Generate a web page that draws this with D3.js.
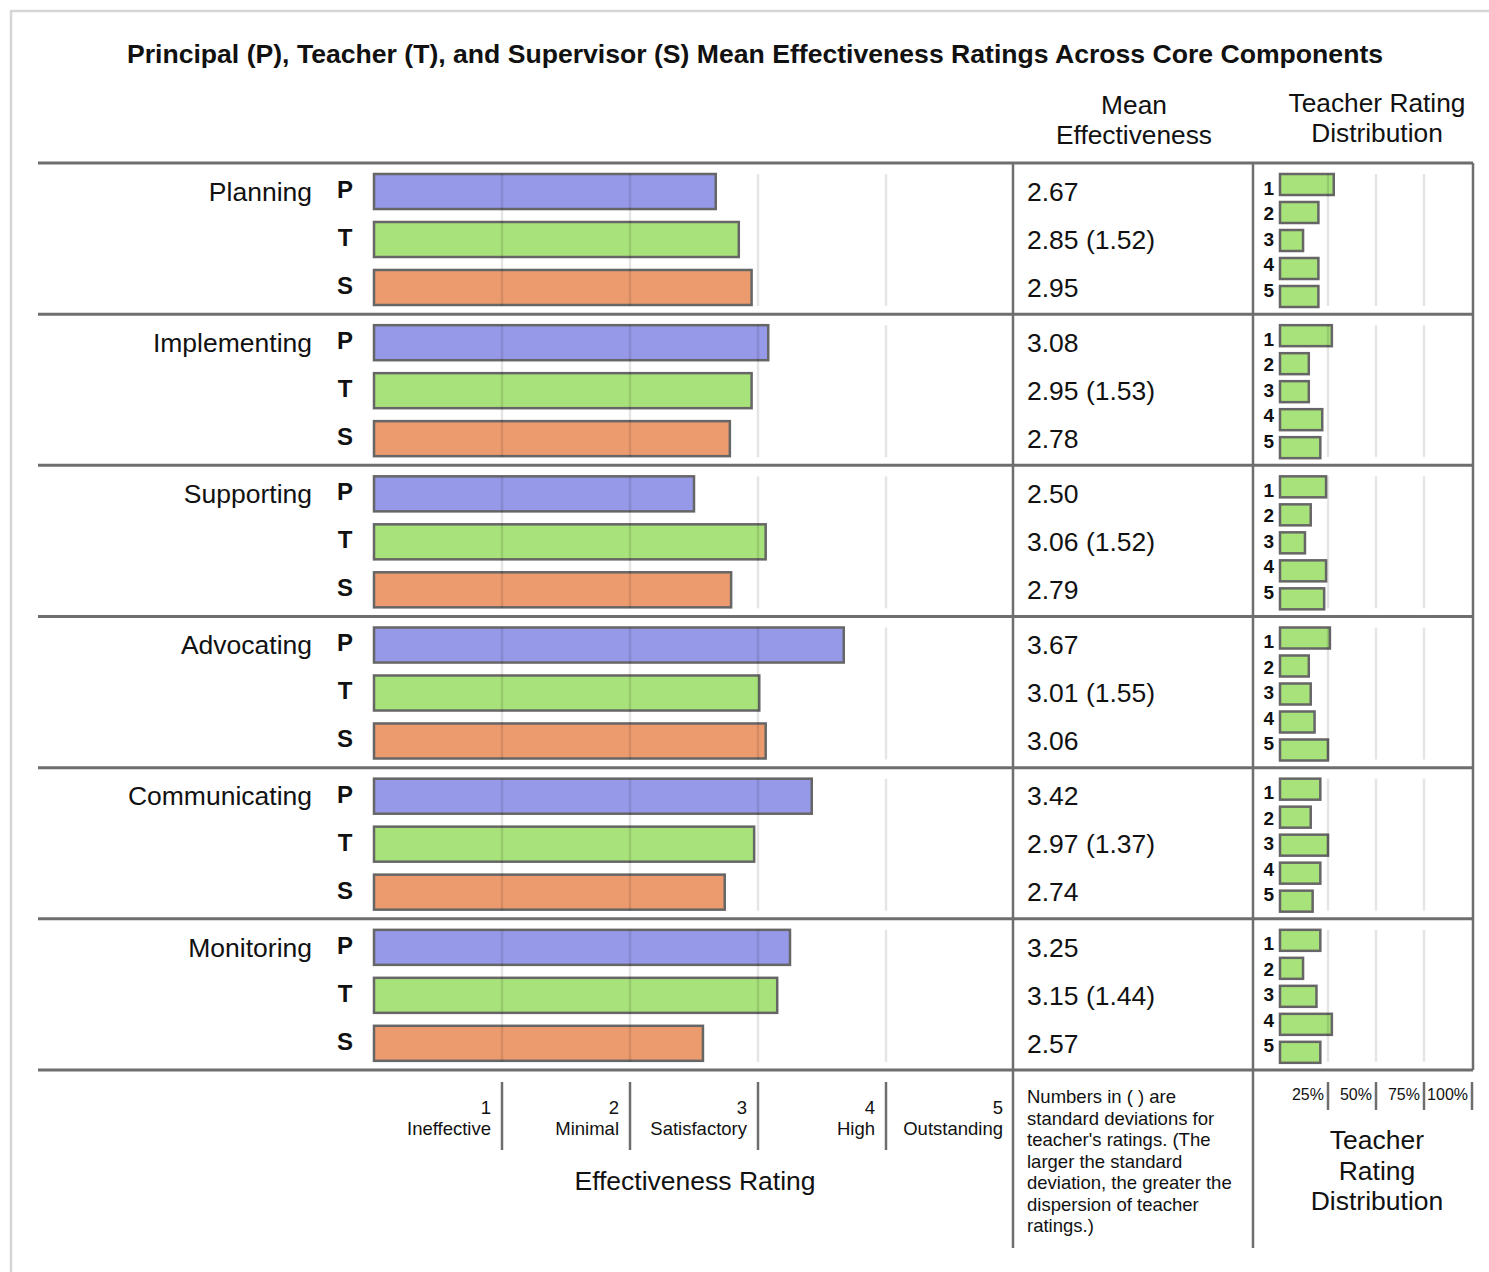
<!DOCTYPE html>
<html><head><meta charset="utf-8">
<script src="https://cdn.jsdelivr.net/npm/d3@7"></script>
<style>body{margin:0;background:#fff;} text{font-family:"Liberation Sans",Arial,sans-serif;fill:#111;}</style>
</head><body>
<svg id="c" width="1489" height="1272"></svg>
<script>
const title = "Principal (P), Teacher (T), and Supervisor (S) Mean Effectiveness Ratings Across Core Components";
const categories = ["Planning","Implementing","Supporting","Advocating","Communicating","Monitoring"];
const roles = ["P","T","S"];
const principal = [2.67,3.08,2.50,3.67,3.42,3.25];
const teacher = [2.85,2.95,3.06,3.01,2.97,3.15];
const teacherSD = [1.52,1.53,1.52,1.55,1.37,1.44];
const supervisor = [2.95,2.78,2.79,3.06,2.74,2.57];
const ratingLevels = [1,2,3,4,5];
const ratingNames = ["Ineffective","Minimal","Satisfactory","High","Outstanding"];
// teacher rating distribution (% of teachers giving rating 1..5)
const distPlanning = [28,20,12,20,20];
const distImplementing = [27,15,15,22,21];
const distSupporting = [24,16,13,24,23];
const distAdvocating = [26,15,16,18,25];
const distCommunicating = [21,16,25,21,17];
const distMonitoring = [21,12,19,27,21];
const distributions = [distPlanning,distImplementing,distSupporting,distAdvocating,distCommunicating,distMonitoring];
const pctTicks = [25,50,75,100];
const noteLines = ["Numbers in ( ) are","standard deviations for","teacher's ratings. (The","larger the standard","deviation, the greater the","dispersion of teacher","ratings.)"];

const colors = {P:"#9698e8", T:"#a8e27a", S:"#ec9b6e"};
const svg = d3.select("#c");

// outer frame
svg.append("rect").attr("x",11).attr("y",11).attr("width",1500).attr("height",1300)
  .attr("fill","none").attr("stroke","#d6d6d6").attr("stroke-width",2.5);

svg.append("text").attr("x",755).attr("y",54).attr("dy","0.35em").attr("text-anchor","middle")
  .attr("font-size",26.6).attr("font-weight","bold").text(title);

// headers
[["Mean",1134,105],["Effectiveness",1134,135],["Teacher Rating",1377,103],["Distribution",1377,133]].forEach(d=>{
  svg.append("text").attr("x",d[1]).attr("y",d[2]).attr("dy","0.35em").attr("text-anchor","middle")
    .attr("font-size",26.3).text(d[0]);
});

const rowScale = d3.scaleBand().domain(categories).range([163,1070]);
const x = d3.scaleLinear().domain([0,5]).range([374,1014]);
const xd = d3.scaleLinear().domain([0,100]).range([1280,1472]);
const roleScale = d3.scaleBand().domain(roles).range([11,142]).paddingInner(0.27);
const distScale = d3.scaleBand().domain(ratingLevels).range([11,144]).paddingInner(0.25);

const valuesFor = i => ({P:principal[i],T:teacher[i],S:supervisor[i]});

categories.forEach((cat,i)=>{
  const g = svg.append("g").attr("transform",`translate(0,${rowScale(cat)})`);
  const vals = valuesFor(i);
  g.append("text").attr("x",312).attr("y",roleScale("P")+roleScale.bandwidth()/2).attr("dy","0.35em")
    .attr("text-anchor","end").attr("font-size",26.5).text(cat);
  roles.forEach(r=>{
    const yc = roleScale(r)+roleScale.bandwidth()/2;
    g.append("text").attr("x",345).attr("y",yc-2).attr("dy","0.35em").attr("text-anchor","middle")
      .attr("font-size",24).attr("font-weight","bold").text(r);
    g.append("rect").attr("x",x(0)).attr("y",roleScale(r)).attr("width",x(vals[r])-x(0))
      .attr("height",roleScale.bandwidth()).attr("fill",colors[r]).attr("stroke","#666").attr("stroke-width",2.5);
    const label = r==="T" ? `${vals[r].toFixed(2)} (${teacherSD[i].toFixed(2)})` : vals[r].toFixed(2);
    g.append("text").attr("x",1027).attr("y",yc).attr("dy","0.35em").attr("font-size",26.5).text(label);
  });
  // gridlines over bars
  [1,2,3,4].forEach(v=>{
    g.append("line").attr("x1",x(v)).attr("x2",x(v)).attr("y1",11).attr("y2",143)
      .attr("stroke","rgba(0,0,0,0.1)").attr("stroke-width",2.5);
  });
  // distribution
  const dist = distributions[i];
  ratingLevels.forEach((lv,k)=>{
    g.append("rect").attr("x",xd(0)).attr("y",distScale(lv)).attr("width",xd(dist[k])-xd(0))
      .attr("height",distScale.bandwidth()).attr("fill",colors.T).attr("stroke","#666").attr("stroke-width",2.5);
    g.append("text").attr("x",1274).attr("y",25+k*25.5).attr("dy","0.35em").attr("text-anchor","end")
      .attr("font-size",19).attr("font-weight","bold").text(lv);
  });
  [25,50,75].forEach(v=>{
    g.append("line").attr("x1",xd(v)).attr("x2",xd(v)).attr("y1",11).attr("y2",143)
      .attr("stroke","rgba(0,0,0,0.1)").attr("stroke-width",2.5);
  });
});

// row separators
const seps = categories.map(c=>rowScale(c)).concat([rowScale.range()[1]]);
seps.forEach(y=>{
  svg.append("line").attr("x1",38).attr("x2",1473).attr("y1",y).attr("y2",y)
    .attr("stroke","#6e6e6e").attr("stroke-width",3);
});
// vertical separators
svg.append("line").attr("x1",1013).attr("x2",1013).attr("y1",163).attr("y2",1248).attr("stroke","#6e6e6e").attr("stroke-width",2.5);
svg.append("line").attr("x1",1253).attr("x2",1253).attr("y1",163).attr("y2",1248).attr("stroke","#6e6e6e").attr("stroke-width",2.5);
svg.append("line").attr("x1",1473).attr("x2",1473).attr("y1",163).attr("y2",1070).attr("stroke","#6e6e6e").attr("stroke-width",2.5);

// bottom rating axis
ratingLevels.forEach((v,k)=>{
  if(v<5) svg.append("line").attr("x1",x(v)).attr("x2",x(v)).attr("y1",1082).attr("y2",1150)
    .attr("stroke","#6e6e6e").attr("stroke-width",2.5);
  svg.append("text").attr("x",x(v)-11).attr("y",1108).attr("dy","0.35em").attr("text-anchor","end")
    .attr("font-size",18.5).text(v);
  svg.append("text").attr("x",x(v)-11).attr("y",1129).attr("dy","0.35em").attr("text-anchor","end")
    .attr("font-size",18.5).text(ratingNames[k]);
});
svg.append("text").attr("x",695).attr("y",1181).attr("dy","0.35em").attr("text-anchor","middle")
  .attr("font-size",26.5).text("Effectiveness Rating");

// note
noteLines.forEach((t,k)=>{
  svg.append("text").attr("x",1027).attr("y",1097+k*21.5).attr("dy","0.35em").attr("font-size",18.5).text(t);
});

// distribution axis
pctTicks.forEach(v=>{
  svg.append("line").attr("x1",xd(v)).attr("x2",xd(v)).attr("y1",1082).attr("y2",1110)
    .attr("stroke","#6e6e6e").attr("stroke-width",2.5);
  svg.append("text").attr("x",xd(v)-4).attr("y",1094).attr("dy","0.35em").attr("text-anchor","end")
    .attr("font-size",16).text(v+"%");
});
[["Teacher",1140],["Rating",1171],["Distribution",1201]].forEach(d=>{
  svg.append("text").attr("x",1377).attr("y",d[1]).attr("dy","0.35em").attr("text-anchor","middle")
    .attr("font-size",26.5).text(d[0]);
});
</script>
</body></html>
